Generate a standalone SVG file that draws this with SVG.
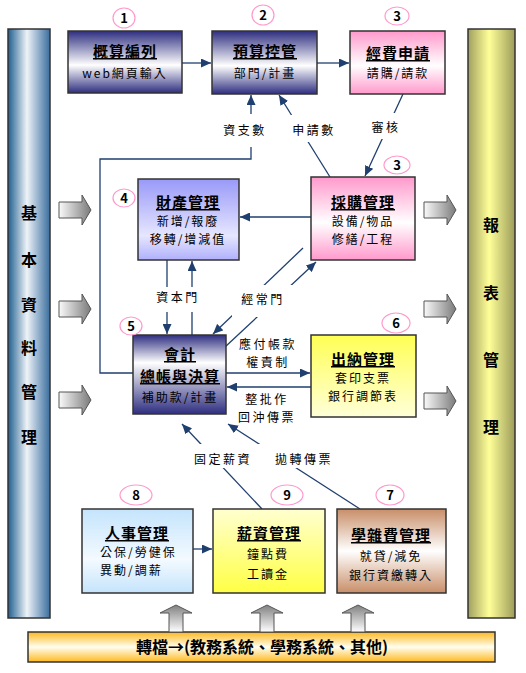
<svg xmlns="http://www.w3.org/2000/svg" xmlns:xlink="http://www.w3.org/1999/xlink" width="526" height="673" viewBox="0 0 526 673">
<style>
text{font-family:"Noto Sans CJK TC","Noto Sans CJK SC",sans-serif;fill:#000}
.t{font-size:15px;font-weight:bold;text-decoration:underline;text-anchor:middle;letter-spacing:1px}
.b{font-size:12px;text-anchor:middle;letter-spacing:2px}
.bl{font-size:12px;letter-spacing:2px}
.lb{font-size:12px;text-anchor:middle;letter-spacing:2.5px}
.n{font-size:13px;font-weight:bold;text-anchor:middle}
.v{font-size:16px;font-weight:bold;text-anchor:middle}
.node{stroke:#333;stroke-width:1.5}
.cir{fill:#fff;stroke:#ff99cc;stroke-width:1.2}
.con{fill:none;stroke:#1f3f6f;stroke-width:1.3}
.ar{marker-end:url(#ah)}
.blk{stroke:#555;stroke-width:1}
</style>
<defs>
<marker id="ah" markerUnits="userSpaceOnUse" markerWidth="10" markerHeight="9" refX="10" refY="4.5" orient="auto">
<path d="M0,0 L10,4.5 L0,9 z" fill="#1f3f6f"/>
</marker>
<linearGradient id="gLeft" x1="0" y1="0" x2="1" y2="0">
<stop offset="0" stop-color="#1f5f90"/><stop offset="0.45" stop-color="#eef3f8"/><stop offset="1" stop-color="#3a6e9e"/>
</linearGradient>
<linearGradient id="gRight" x1="0" y1="0" x2="1" y2="0">
<stop offset="0" stop-color="#a0a060"/><stop offset="0.45" stop-color="#ffff99"/><stop offset="1" stop-color="#9c9c5a"/>
</linearGradient>
<linearGradient id="gBar" x1="0" y1="0" x2="0" y2="1">
<stop offset="0" stop-color="#ffb820"/><stop offset="0.5" stop-color="#fffff0"/><stop offset="1" stop-color="#ffb820"/>
</linearGradient>
<linearGradient id="gNavy" x1="0" y1="0" x2="0" y2="1">
<stop offset="0" stop-color="#2e2e80"/><stop offset="0.55" stop-color="#ffffff"/><stop offset="1" stop-color="#2e2e80"/>
</linearGradient>
<linearGradient id="gNavy5" x1="0" y1="0" x2="0" y2="1">
<stop offset="0" stop-color="#2e2e80"/><stop offset="0.35" stop-color="#ffffff"/><stop offset="1" stop-color="#2e2e80"/>
</linearGradient>
<linearGradient id="gPink" x1="0" y1="0" x2="0" y2="1">
<stop offset="0" stop-color="#ff99cc"/><stop offset="0.55" stop-color="#ffffff"/><stop offset="1" stop-color="#ff99cc"/>
</linearGradient>
<linearGradient id="gLav" x1="0" y1="0" x2="0" y2="1">
<stop offset="0" stop-color="#9999f8"/><stop offset="0.7" stop-color="#e6e6ff"/><stop offset="1" stop-color="#b0b0fc"/>
</linearGradient>
<linearGradient id="gYel6" x1="0" y1="0" x2="0" y2="1">
<stop offset="0" stop-color="#ffff55"/><stop offset="1" stop-color="#ffffd8"/>
</linearGradient>
<linearGradient id="gYel9" x1="0" y1="0" x2="0" y2="1">
<stop offset="0" stop-color="#ffffd0"/><stop offset="1" stop-color="#ffff44"/>
</linearGradient>
<linearGradient id="gBlue" x1="0" y1="0" x2="0" y2="1">
<stop offset="0" stop-color="#c4e4fc"/><stop offset="0.6" stop-color="#f4faff"/><stop offset="1" stop-color="#c4e4fc"/>
</linearGradient>
<linearGradient id="gBrown" x1="0" y1="0" x2="0" y2="1">
<stop offset="0" stop-color="#c88e68"/><stop offset="0.5" stop-color="#ffffff"/><stop offset="1" stop-color="#c88e68"/>
</linearGradient>
<linearGradient id="gRA" x1="0" y1="0" x2="1" y2="0">
<stop offset="0" stop-color="#fafafa"/><stop offset="1" stop-color="#7a7a7a"/>
</linearGradient>
<linearGradient id="gUA" x1="0" y1="0" x2="0" y2="1">
<stop offset="0" stop-color="#808080"/><stop offset="1" stop-color="#ffffff"/>
</linearGradient>
<path id="rarrow" d="M59,-8 H82 V-15 L91,0 L82,15 V8 H59 Z" fill="url(#gRA)" class="blk"/>
<path id="uarrow" d="M-7,632 V613 H-16 L0,605 L16,613 H7 V632 Z" fill="url(#gUA)" class="blk"/>
</defs>

<rect width="526" height="673" fill="#fff"/>

<g id="left-pillar">
<rect x="8" y="29" width="42" height="589" fill="url(#gLeft)" stroke="#333" stroke-width="1.5"/>
<text class="v" x="29" y="219">基</text>
<text class="v" x="29" y="266">本</text>
<text class="v" x="29" y="311">資</text>
<text class="v" x="29" y="354">料</text>
<text class="v" x="29" y="398">管</text>
<text class="v" x="29" y="443">理</text>
</g>

<g id="right-pillar">
<rect x="468" y="29" width="47" height="589" fill="url(#gRight)" stroke="#333" stroke-width="1.5"/>
<text class="v" x="491" y="231">報</text>
<text class="v" x="491" y="299">表</text>
<text class="v" x="491" y="366">管</text>
<text class="v" x="491" y="433">理</text>
</g>

<g id="bottom-bar">
<rect x="28" y="632" width="467" height="30" fill="url(#gBar)" stroke="#333" stroke-width="1.5"/>
<text x="262" y="653" style="font-size:16px;font-weight:bold;text-anchor:middle">轉檔→(教務系統、學務系統、其他)</text>
</g>

<g id="block-arrows">
<use xlink:href="#rarrow" transform="translate(0,210)"/>
<use xlink:href="#rarrow" transform="translate(0,309)"/>
<use xlink:href="#rarrow" transform="translate(0,400)"/>
<use xlink:href="#rarrow" transform="translate(365,210)"/>
<use xlink:href="#rarrow" transform="translate(365,309)"/>
<use xlink:href="#rarrow" transform="translate(365,401)"/>
<use xlink:href="#uarrow" transform="translate(176,0)"/>
<use xlink:href="#uarrow" transform="translate(267,0)"/>
<use xlink:href="#uarrow" transform="translate(358,0)"/>
</g>

<g id="connectors">
<path class="con ar" d="M182,63 H211"/>
<path class="con ar" d="M317,63 H349"/>
<path class="con ar" d="M133,373 H100 V159 H251 V95"/>
<path class="con ar" d="M330,177 L279,95"/>
<path class="con ar" d="M403,94 L365,176"/>
<path class="con ar" d="M311,217 H240"/>
<path class="con ar" d="M167,260 V334"/>
<path class="con ar" d="M192,335 V261"/>
<path class="con ar" d="M303,248 L213,334"/>
<path class="con ar" d="M225,347 L316,262"/>
<path class="con ar" d="M226,373 H310"/>
<path class="con ar" d="M311,387 H227"/>
<path class="con ar" d="M262,509 L182,424"/>
<path class="con ar" d="M360,509 L228,424"/>
<path class="con ar" d="M193,549 H212"/>
</g>

<g id="labels">
<rect x="215" y="114" width="63" height="33" fill="#fff"/>
<rect x="289" y="115" width="49" height="27" fill="#fff"/>
<rect x="369" y="113" width="32" height="26" fill="#fff"/>
<rect x="150" y="287" width="55" height="25" fill="#fff"/>
<rect x="232" y="285" width="66" height="32" fill="#fff"/>
<rect x="186" y="444" width="156" height="24" fill="#fff"/>
<text class="lb" x="245" y="135">資支數</text>
<text class="lb" x="314" y="135">申請數</text>
<text class="lb" x="386" y="132">審核</text>
<text class="lb" x="178" y="302">資本門</text>
<text class="lb" x="263" y="304">經常門</text>
<text class="lb" x="268" y="349">應付帳款</text>
<text class="lb" x="268" y="367">權責制</text>
<text class="lb" x="267" y="404">整批作</text>
<text class="lb" x="267" y="422">回沖傳票</text>
<text class="lb" x="223" y="464">固定薪資</text>
<text class="lb" x="304" y="464">拋轉傳票</text>
</g>

<g id="node1">
<rect class="node" x="68" y="31" width="114" height="62" fill="url(#gNavy)"/>
<text class="t" x="125" y="57">概算編列</text>
<text class="b" x="125" y="78">web網頁輸入</text>
<ellipse class="cir" cx="124" cy="18" rx="11" ry="10"/>
<text class="n" x="124" y="23">1</text>
</g>

<g id="node2">
<rect class="node" x="212" y="31" width="105" height="63" fill="url(#gNavy)"/>
<text class="t" x="265" y="57">預算控管</text>
<text class="b" x="265" y="78">部門/計畫</text>
<ellipse class="cir" cx="263" cy="15" rx="11" ry="10"/>
<text class="n" x="263" y="20">2</text>
</g>

<g id="node3">
<rect class="node" x="350" y="31" width="95" height="63" fill="url(#gPink)"/>
<text class="t" x="398" y="59">經費申請</text>
<text class="b" x="398" y="78">請購/請款</text>
<ellipse class="cir" cx="397" cy="16" rx="12" ry="9"/>
<text class="n" x="397" y="21">3</text>
</g>

<g id="node4">
<rect class="node" x="138" y="179" width="101" height="81" fill="url(#gLav)"/>
<text class="t" x="188" y="208">財產管理</text>
<text class="b" x="188" y="226">新增/報廢</text>
<text class="b" x="188" y="244">移轉/增減值</text>
<ellipse class="cir" cx="124" cy="198" rx="11" ry="9"/>
<text class="n" x="124" y="203">4</text>
</g>

<g id="node3b">
<rect class="node" x="311" y="177" width="104" height="83" fill="url(#gPink)"/>
<text class="t" x="363" y="208">採購管理</text>
<text class="b" x="363" y="226">設備/物品</text>
<text class="b" x="363" y="244">修繕/工程</text>
<ellipse class="cir" cx="397" cy="165" rx="13" ry="9"/>
<text class="n" x="397" y="170">3</text>
</g>

<g id="node5">
<rect class="node" x="133" y="335" width="93" height="79" fill="url(#gNavy5)"/>
<text class="t" x="180" y="360">會計</text>
<text class="t" x="180" y="382">總帳與決算</text>
<text class="b" x="180" y="402">補助款/計畫</text>
<ellipse class="cir" cx="131" cy="326" rx="11" ry="9"/>
<text class="n" x="131" y="331">5</text>
</g>

<g id="node6">
<rect class="node" x="311" y="335" width="105" height="82" fill="url(#gYel6)"/>
<text class="t" x="363" y="365">出納管理</text>
<text class="b" x="363" y="383">套印支票</text>
<text class="b" x="363" y="401">銀行調節表</text>
<ellipse class="cir" cx="396" cy="323" rx="14" ry="10"/>
<text class="n" x="396" y="328">6</text>
</g>

<g id="node8">
<rect class="node" x="82" y="509" width="111" height="84" fill="url(#gBlue)"/>
<text class="t" x="137" y="539">人事管理</text>
<text class="bl" x="100" y="557">公保/勞健保</text>
<text class="bl" x="100" y="575">異動/調薪</text>
<ellipse class="cir" cx="136" cy="495" rx="16" ry="10"/>
<text class="n" x="136" y="500">8</text>
</g>

<g id="node9">
<rect class="node" x="213" y="509" width="112" height="84" fill="url(#gYel9)"/>
<text class="t" x="269" y="539">薪資管理</text>
<text class="b" x="268" y="559">鐘點費</text>
<text class="b" x="268" y="579">工讀金</text>
<ellipse class="cir" cx="287" cy="495" rx="16" ry="10"/>
<text class="n" x="287" y="500">9</text>
</g>

<g id="node7">
<rect class="node" x="337" y="509" width="109" height="84" fill="url(#gBrown)"/>
<text class="t" x="391" y="541">學雜費管理</text>
<text class="b" x="391" y="561">就貸/減免</text>
<text class="b" x="391" y="580">銀行資繳轉入</text>
<ellipse class="cir" cx="390" cy="495" rx="14" ry="10"/>
<text class="n" x="390" y="500">7</text>
</g>
</svg>
